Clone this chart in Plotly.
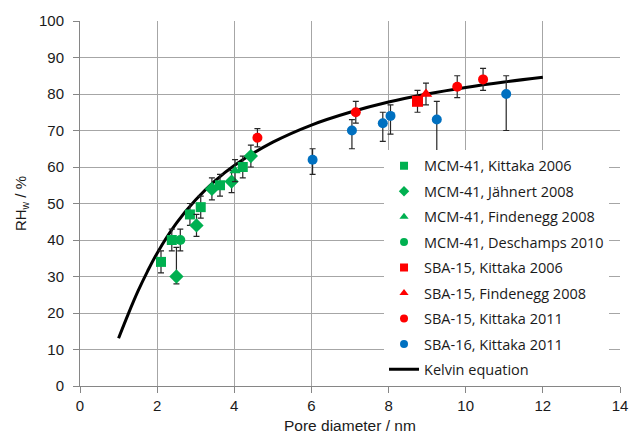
import plotly.graph_objects as go

# ---- data ----
mcm_kit06_x = [2.1, 2.38, 2.85, 3.13, 3.63, 4.22]
mcm_kit06_y = [34, 40, 47, 49, 55, 60]
mcm_kit06_e = [3, 3, 3, 3, 3, 3]

mcm_jah08_x = [2.5, 3.02, 3.42, 3.93, 4.43]
mcm_jah08_y = [30, 44, 54, 56, 63]
mcm_jah08_ep = [8, 3, 3, 3, 3]
mcm_jah08_em = [2, 3, 3, 3, 3]

mcm_fin08_x = [4.02]
mcm_fin08_y = [59]
mcm_fin08_e = [3]

mcm_des10_x = [2.6]
mcm_des10_y = [40]
mcm_des10_e = [3]

sba15_kit06_x = [8.75]
sba15_kit06_y = [78]
sba15_kit06_e = [3]

sba15_fin08_x = [8.97]
sba15_fin08_y = [80]
sba15_fin08_e = [3]

sba15_kit11_x = [4.6, 7.15, 9.78, 10.45]
sba15_kit11_y = [68, 75, 82, 84]
sba15_kit11_e = [2.5, 3, 3, 3]

sba16_kit11_x = [6.03, 7.05, 7.85, 8.05, 9.25, 11.05]
sba16_kit11_y = [62, 70, 72, 74, 73, 80]
sba16_kit11_ep = [3, 3, 3, 3, 5, 5]
sba16_kit11_em = [4, 5, 5, 5, 9, 10]

kelvin_x = [1, 1.25, 1.5, 1.75, 2, 2.5, 3, 3.5, 4, 5, 6, 7, 8, 9, 10, 11, 12]
kelvin_y = [13.1, 19.7, 25.9, 31.4, 36.4, 44.6, 51.0, 56.2, 60.4, 66.8, 71.5, 75.0, 77.8, 80.0, 81.8, 83.3, 84.6]

x_title = "Pore diameter / nm"
y_title = "RH<sub>w</sub> / %"

GREEN = "#00B050"
RED = "#FF0000"
BLUE = "#0070C0"
ERR = dict(color="#262626", thickness=1.2, width=3)
TXT = "#1a1a1a"
AX_FONT = "Liberation Sans, Arial"

fig = go.Figure()

# Kelvin curve first so markers sit on top
fig.add_trace(go.Scatter(x=kelvin_x, y=kelvin_y, mode="lines", name="Kelvin equation",
                         line=dict(color="black", width=3, shape="spline"),
                         legendrank=9, legendgroup="k"))


def add(name, x, y, symbol, color, size, lsize, ep, em=None, rank=0):
    ed = dict(type="data", array=ep, **ERR)
    if em is not None:
        ed["arrayminus"] = em
        ed["symmetric"] = False
    fig.add_trace(go.Scatter(x=x, y=y, mode="markers", name=name, showlegend=False,
                             marker=dict(symbol=symbol, color=color, size=size, line=dict(width=0)),
                             error_y=ed))
    # legend-only entry with the smaller legend symbol
    fig.add_trace(go.Scatter(x=[None], y=[None], mode="markers", name=name,
                             marker=dict(symbol=symbol, color=color, size=lsize, line=dict(width=0)),
                             legendrank=rank, legendgroup=name))


add("MCM-41, Kittaka 2006", mcm_kit06_x, mcm_kit06_y, "square", GREEN, 10, 8, mcm_kit06_e, rank=1)
add("MCM-41, Jähnert 2008", mcm_jah08_x, mcm_jah08_y, "diamond", GREEN, 11, 8, mcm_jah08_ep, mcm_jah08_em, rank=2)
add("MCM-41, Findenegg 2008", mcm_fin08_x, mcm_fin08_y, "triangle-up", GREEN, 10, 8, mcm_fin08_e, rank=3)
add("MCM-41, Deschamps 2010", mcm_des10_x, mcm_des10_y, "circle", GREEN, 10, 8, mcm_des10_e, rank=4)
add("SBA-15, Kittaka 2006", sba15_kit06_x, sba15_kit06_y, "square", RED, 11, 8, sba15_kit06_e, rank=5)
add("SBA-15, Findenegg 2008", sba15_fin08_x, sba15_fin08_y, "triangle-up", RED, 11, 8, sba15_fin08_e, rank=6)
add("SBA-15, Kittaka 2011", sba15_kit11_x, sba15_kit11_y, "circle", RED, 10, 8, sba15_kit11_e, rank=7)
add("SBA-16, Kittaka 2011", sba16_kit11_x, sba16_kit11_y, "circle", BLUE, 10, 8, sba16_kit11_ep, sba16_kit11_em, rank=8)

axis_common = dict(showgrid=True, gridcolor="#A6A6A6", gridwidth=1,
                   showline=True, linecolor="#868686", linewidth=1,
                   ticks="outside", ticklen=6, tickcolor="#868686",
                   tickfont=dict(family=AX_FONT, size=15, color=TXT),
                   zeroline=False, automargin=False)

fig.update_layout(
    width=635, height=437,
    margin=dict(l=80, r=15, t=21, b=51),
    paper_bgcolor="white", plot_bgcolor="white",
    showlegend=True,
    legend=dict(x=0.563, y=0.647, xanchor="left", yanchor="top",
                bgcolor="white", borderwidth=0,
                font=dict(family="Open Sans", size=14.5, color=TXT),
                traceorder="grouped", tracegroupgap=3.6, itemwidth=30),
    xaxis=dict(range=[0, 14], dtick=2, tick0=0, **axis_common),
    yaxis=dict(range=[0, 100], dtick=10, tick0=0, ticklabelstandoff=6,
               title=dict(text=y_title, standoff=8,
                          font=dict(family=AX_FONT, size=15, color=TXT)),
               **axis_common),
    annotations=[dict(text=x_title, xref="paper", yref="paper", x=0.5, y=-0.107,
                      xanchor="center", yanchor="middle", showarrow=False,
                      font=dict(family=AX_FONT, size=15.5, color=TXT))],
)

fig.write_html("out.html")
